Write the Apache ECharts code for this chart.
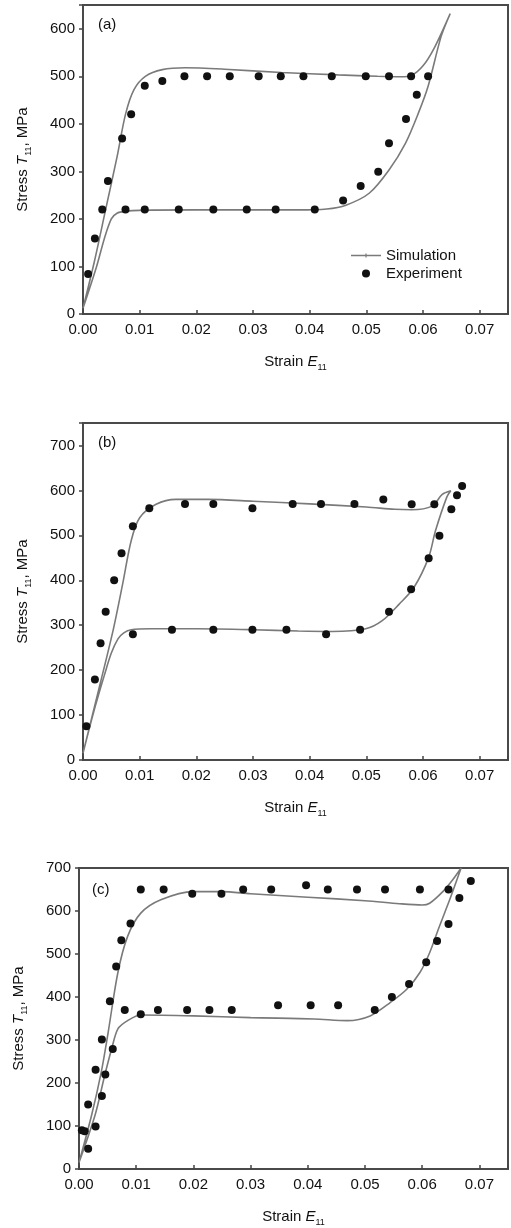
<!DOCTYPE html>
<html>
<head>
<meta charset="utf-8">
<script src="https://cdn.jsdelivr.net/npm/echarts@6/dist/echarts.min.js"></script>
<style>
html,body{margin:0;padding:0;background:#fff;}
#chart{width:511px;height:1228px;}
</style>
</head>
<body>
<div id="chart"></div>
<script>
// ---------- data ----------
const panelLabels = ['(a)', '(b)', '(c)'];
const xTicks = [0, 0.01, 0.02, 0.03, 0.04, 0.05, 0.06, 0.07];
const yMaxA = 650, yMaxB = 750, yMaxC = 700;

const simA = [[0,12],[0.002,110],[0.004,220],[0.006,330],[0.0075,420],[0.009,472],[0.011,500],[0.014,514],[0.018,518],[0.025,515],[0.035,508],[0.045,503],[0.052,500],[0.056,499],[0.058,502],[0.06,522],[0.062,560],[0.0648,632],
  [0.0632,584],[0.0609,479],[0.0592,423],[0.0569,359],[0.054,303],[0.0505,254],[0.0464,229],[0.043,221],[0.038,219],[0.02,219],[0.01,218],[0.0075,216],[0.006,212],[0.005,200],[0.0038,160],[0.0024,100],[0,12]];
const expA = [[0.0009,84],[0.0021,159],[0.0034,220],[0.0044,280],[0.0069,369],[0.0085,420],[0.0109,480],[0.014,490],[0.0179,500],[0.0219,500],[0.0259,500],[0.031,500],[0.0349,500],[0.0389,500],[0.0439,500],[0.0499,500],[0.054,500],[0.0579,500],[0.0609,500],
  [0.0589,461],[0.057,410],[0.054,359],[0.0521,299],[0.049,269],[0.0459,239],[0.0409,220],[0.034,220],[0.0289,220],[0.023,220],[0.0169,220],[0.0109,220],[0.0075,220]];

const simB = [[0,15],[0.0029,163],[0.0053,288],[0.007,392],[0.0085,488],[0.01,539],[0.0129,569],[0.0164,580],[0.022,580],[0.03,576],[0.04,570],[0.05,563],[0.055,558],[0.058,557],[0.0616,565],[0.0634,591],[0.0649,599],
  [0.0642,585],[0.0622,510],[0.061,451],[0.0584,384],[0.0558,347],[0.0528,310],[0.0499,292],[0.044,286],[0.038,287],[0.03,290],[0.02,292],[0.012,292],[0.0085,290],[0.0072,283],[0.0062,270],[0.005,238],[0.0038,190],[0.0018,103],[0,15]];
const expB = [[0.0006,75],[0.0021,179],[0.0031,260],[0.004,330],[0.0055,400],[0.0068,460],[0.0088,520],[0.0117,560],[0.018,570],[0.023,570],[0.0299,560],[0.037,570],[0.042,570],[0.0479,570],[0.053,580],[0.058,569],[0.062,569],[0.0669,610],[0.066,589],[0.065,558],[0.0629,499],[0.061,449],
  [0.0579,380],[0.054,330],[0.0489,290],[0.0429,280],[0.0359,290],[0.0299,290],[0.023,290],[0.0157,290],[0.0088,280]];

const simC = [[0,15],[0.0022,125],[0.0039,226],[0.0051,318],[0.0068,457],[0.0085,541],[0.0108,595],[0.0143,626],[0.02,645],[0.025,645],[0.03,640],[0.04,632],[0.05,624],[0.056,617],[0.06,614],[0.0613,618],[0.0636,645],[0.0653,672],[0.0668,700],
  [0.0648,626],[0.063,564],[0.0613,503],[0.0596,457],[0.0573,418],[0.0544,387],[0.0509,356],[0.0469,345],[0.0411,349],[0.03,352],[0.02,356],[0.0108,358],[0.0085,345],[0.0068,326],[0.0057,279],[0.0045,218],[0.0028,125],[0,15]];
const expC = [[0.0005,90],[0.001,88],[0.0016,47],[0.0016,150],[0.0029,99],[0.0029,231],[0.004,170],[0.0046,220],[0.004,301],[0.0059,279],[0.0054,390],[0.0065,471],[0.0074,532],[0.009,571],[0.008,370],[0.0108,360],[0.0108,650],[0.0148,650],[0.0138,370],[0.0189,370],[0.0198,640],[0.0249,640],[0.0228,370],[0.0267,370],[0.0287,650],[0.0336,650],[0.0348,381],[0.0397,660],[0.0405,381],[0.0435,650],[0.0453,381],[0.0486,650],[0.0517,370],[0.0535,650],[0.0547,400],[0.0577,430],[0.0596,650],[0.0607,481],[0.0626,530],[0.0646,570],[0.0646,650],[0.0665,630],[0.0685,670]];

const simData = [simA, simB, simC];
const expData = [expA, expB, expC];
const yMaxes = [yMaxA, yMaxB, yMaxC];

// ---------- layout ----------
const grids = [
  {left: 83, top: 5, width: 431, height: 309},
  {left: 83, top: 423, width: 426, height: 337},
  {left: 79, top: 868, width: 433, height: 303}
];
const labelPos = [[98, 17], [98, 435], [92, 882]];

const FONT = 'Liberation Sans, Arial, sans-serif';
const rich = {
  it: {fontStyle: 'italic', fontSize: 15, lineHeight: 20, fontFamily: FONT, color: '#111'},
  sub: {fontSize: 9, lineHeight: 10, verticalAlign: 'bottom', fontFamily: FONT, color: '#111'}
};

const option = {
  backgroundColor: '#fff',
  animation: false,
  textStyle: {fontFamily: FONT},
  grid: grids.map(g => Object.assign({show: true, borderColor: '#4a4a4a', borderWidth: 2, backgroundColor: 'transparent'}, g)),
  xAxis: grids.map((g, i) => ({
    type: 'value', gridIndex: i, min: 0, max: 0.075, interval: 0.01,
    name: 'Strain {it|E}{sub|11}', nameLocation: 'middle', nameGap: 38,
    nameTextStyle: {fontSize: 15, lineHeight: 20, color: '#111', fontFamily: FONT, rich: rich},
    axisLine: {show: true, lineStyle: {color: '#4a4a4a', width: 2}},
    axisTick: {show: true, inside: true, length: 4, lineStyle: {color: '#444', width: 1.5}},
    axisLabel: {fontSize: 15, color: '#111', margin: 8, fontFamily: FONT,
      formatter: v => (Math.abs(v * 100 - Math.round(v * 100)) < 1e-6 ? v.toFixed(2) : '')},
    splitLine: {show: false}
  })),
  yAxis: grids.map((g, i) => ({
    type: 'value', gridIndex: i, min: 0, max: yMaxes[i], interval: 100,
    name: 'Stress {it|T}{sub|11}, MPa', nameLocation: 'middle', nameGap: 50, nameRotate: 90,
    nameTextStyle: {fontSize: 15, lineHeight: 20, color: '#111', fontFamily: FONT, rich: rich},
    axisLine: {show: true, lineStyle: {color: '#4a4a4a', width: 2}},
    axisTick: {show: true, inside: false, length: 4, lineStyle: {color: '#444', width: 1.5}},
    axisLabel: {fontSize: 15, color: '#111', margin: 8, fontFamily: FONT,
      formatter: v => (v % 100 === 0 ? String(v) : '')},
    splitLine: {show: false}
  })),
  legend: {
    orient: 'vertical', left: 346, top: 243, itemGap: 3, itemWidth: 30, itemHeight: 8,
    textStyle: {fontSize: 15, color: '#111', fontFamily: FONT},
    data: [
      {name: 'Simulation', icon: 'path://M0,3.4h30v1.4h-30z M14.4,2h1.2v4.2h-1.2z'},
      {name: 'Experiment', icon: 'circle'}
    ]
  },
  graphic: panelLabels.map((t, i) => ({
    type: 'text', left: labelPos[i][0], top: labelPos[i][1],
    style: {text: t, fontSize: 15, fill: '#111', fontFamily: FONT}
  })),
  series: []
};

for (let i = 0; i < 3; i++) {
  option.series.push({
    name: 'Simulation', type: 'line', xAxisIndex: i, yAxisIndex: i,
    data: simData[i], symbol: 'none', smooth: 0.3, clip: true,
    lineStyle: {color: '#7a7a7a', width: 1.6}, itemStyle: {color: '#7a7a7a'}, z: 2
  });
  option.series.push({
    name: 'Experiment', type: 'scatter', xAxisIndex: i, yAxisIndex: i,
    data: expData[i], symbol: 'circle', symbolSize: 8,
    itemStyle: {color: '#111', opacity: 1}, z: 3
  });
}

const chart = echarts.init(document.getElementById('chart'), null, {renderer: 'canvas'});
chart.setOption(option);
</script>
</body>
</html>
